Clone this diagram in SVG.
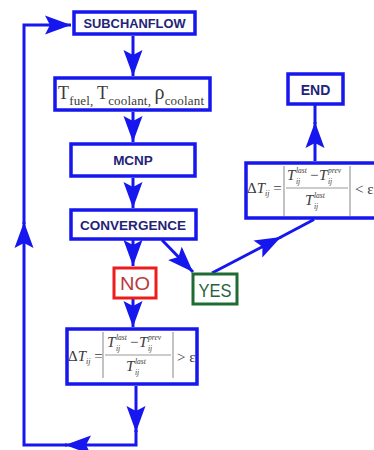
<svg xmlns="http://www.w3.org/2000/svg" width="374" height="450" viewBox="0 0 374 450">
<style>
.box{fill:#fff;stroke:#1616ee;stroke-width:3.5}
.lbl{font-family:"Liberation Sans",Arial,sans-serif;font-weight:bold;fill:#232378;text-anchor:middle}
.con{fill:none;stroke:#1616ee;stroke-width:3}
.fx{font-family:"Liberation Serif","Times New Roman",serif;fill:#3a3a3a}
.it{font-style:italic}
.bar{stroke:#9a9a9a;stroke-width:1.2}
</style>
<defs>
<marker id="ah" markerUnits="userSpaceOnUse" markerWidth="28" markerHeight="20" refX="26" refY="10" orient="auto">
<path d="M0,0.5 L26,10 L0,19.5 L5,10 Z" fill="#1616ee"/>
</marker>
</defs>
<rect width="374" height="450" fill="#fff"/>
<g id="connectors">
<line class="con" x1="133" y1="36" x2="133" y2="76" marker-end="url(#ah)"/>
<line class="con" x1="133" y1="112" x2="133" y2="142" marker-end="url(#ah)"/>
<line class="con" x1="133" y1="178" x2="133" y2="208" marker-end="url(#ah)"/>
<line class="con" x1="133" y1="240" x2="133" y2="266" marker-end="url(#ah)"/>
<line class="con" x1="162" y1="240" x2="193" y2="272" marker-end="url(#ah)"/>
<path class="con" d="M212,273 L281,237" marker-end="url(#ah)"/>
<path class="con" d="M280,237.5 L314,219.5"/>
<path class="con" d="M315,161 L315,122" marker-end="url(#ah)"/>
<path class="con" d="M315,124 L315,105"/>
<line class="con" x1="133" y1="299" x2="133" y2="327" marker-end="url(#ah)"/>
<path class="con" d="M136,386 L136,432" marker-end="url(#ah)"/>
<path class="con" d="M136,430 L136,445 L65,445" marker-end="url(#ah)"/>
<path class="con" d="M67,445 L24,445 L24,222" marker-end="url(#ah)"/>
<path class="con" d="M24,224 L24,25 L71,25" marker-end="url(#ah)"/>
</g>
<g id="subchanflow">
<rect class="box" x="74" y="12" width="121" height="22"/>
<text class="lbl" x="134.5" y="28" font-size="13" textLength="102" lengthAdjust="spacingAndGlyphs">SUBCHANFLOW</text>
</g>
<g id="params">
<rect class="box" x="55" y="78" width="155" height="32"/>
<text class="fx" x="58" y="99" font-size="18" textLength="146" lengthAdjust="spacing">T<tspan font-size="13" dy="6">fuel, </tspan><tspan dy="-6">T</tspan><tspan font-size="13" dy="6">coolant, </tspan><tspan dy="-6" font-size="20">ρ</tspan><tspan font-size="13" dy="6">coolant</tspan></text>
</g>
<g id="mcnp">
<rect class="box" x="71" y="144" width="124" height="32"/>
<text class="lbl" x="133" y="165" font-size="13.5">MCNP</text>
</g>
<g id="convergence">
<rect class="box" x="71" y="210" width="125" height="29"/>
<text class="lbl" x="133" y="230" font-size="13.5" textLength="106" lengthAdjust="spacingAndGlyphs">CONVERGENCE</text>
</g>
<g id="no">
<rect x="114" y="268" width="42" height="30" fill="#fff" stroke="#ee1c1c" stroke-width="3"/>
<text x="135" y="290" font-family="Liberation Sans,Arial,sans-serif" font-size="18" fill="#b83a3a" text-anchor="middle" textLength="30" lengthAdjust="spacingAndGlyphs">NO</text>
</g>
<g id="yes">
<rect x="193" y="274" width="44" height="30" fill="#fff" stroke="#1f6b32" stroke-width="3"/>
<text x="215" y="297" font-family="Liberation Sans,Arial,sans-serif" font-size="18" fill="#2a6040" text-anchor="middle" textLength="33" lengthAdjust="spacingAndGlyphs">YES</text>
</g>
<g id="end">
<rect class="box" x="288" y="74" width="55" height="30"/>
<text class="lbl" x="315.5" y="94.5" font-size="14">END</text>
</g>
<g id="check-continue">
<rect class="box" x="67" y="329" width="130" height="55"/>
<text class="fx" x="68" y="361" font-size="15">Δ<tspan class="it">T</tspan><tspan class="it" font-size="8" dy="3">ij</tspan><tspan dy="-3"> =</tspan></text>
<line class="bar" x1="103" y1="332" x2="103" y2="378"/>
<line class="bar" x1="173" y1="332" x2="173" y2="378"/>
<line class="bar" x1="105" y1="355" x2="171" y2="355"/>
<text class="fx it" x="107" y="347" font-size="15">T</text>
<text class="fx it" x="116" y="340" font-size="7.5">last</text>
<text class="fx it" x="116" y="351" font-size="7.5">ij</text>
<text class="fx" x="130" y="347" font-size="15">−</text>
<text class="fx it" x="139" y="347" font-size="15">T</text>
<text class="fx it" x="148" y="340" font-size="7.5">prev</text>
<text class="fx it" x="148" y="351" font-size="7.5">ij</text>
<text class="fx it" x="126" y="371" font-size="15">T</text>
<text class="fx it" x="135" y="364" font-size="7.5">last</text>
<text class="fx it" x="135" y="375" font-size="7.5">ij</text>
<text class="fx" x="177" y="362" font-size="15">&gt; ε</text>
</g>
<g id="check-stop">
<rect class="box" x="246" y="163" width="130" height="55"/>
<text class="fx" x="247" y="193" font-size="15">Δ<tspan class="it">T</tspan><tspan class="it" font-size="8" dy="3">ij</tspan><tspan dy="-3"> =</tspan></text>
<line class="bar" x1="284" y1="166" x2="284" y2="216"/>
<line class="bar" x1="350" y1="166" x2="350" y2="216"/>
<line class="bar" x1="286" y1="188" x2="348" y2="188"/>
<text class="fx it" x="287" y="180" font-size="15">T</text>
<text class="fx it" x="296" y="173" font-size="7.5">last</text>
<text class="fx it" x="296" y="184" font-size="7.5">ij</text>
<text class="fx" x="310" y="180" font-size="15">−</text>
<text class="fx it" x="319" y="180" font-size="15">T</text>
<text class="fx it" x="328" y="173" font-size="7.5">prev</text>
<text class="fx it" x="328" y="184" font-size="7.5">ij</text>
<text class="fx it" x="305" y="205" font-size="15">T</text>
<text class="fx it" x="314" y="198" font-size="7.5">last</text>
<text class="fx it" x="314" y="209" font-size="7.5">ij</text>
<text class="fx" x="355" y="194" font-size="15">&lt; ε</text>
</g>
</svg>
